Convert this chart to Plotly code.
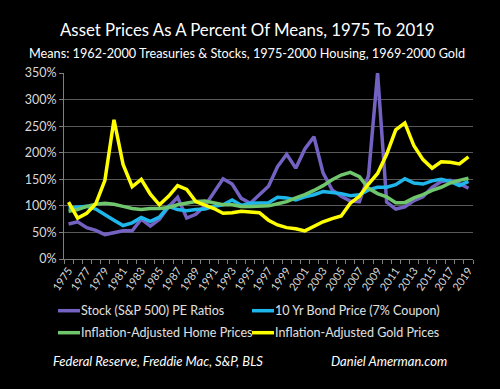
import plotly.graph_objects as go

years = list(range(1975, 2020))

stock_pe = [66, 70, 59, 54, 46, 49, 53, 53, 75, 62, 75, 98, 116, 77, 84,
            100, 125, 151, 141, 114, 105, 120, 137, 174, 197, 171, 207, 230, 162, 130,
            118, 109, 108, 157, 350, 107, 94, 98, 110, 117, 135, 146, 148, 142, 133]

bond_price = [96, 97, 99, 94, 83, 73, 63, 68, 78, 71, 79, 99, 93, 91, 93,
              94, 99, 102, 111, 101, 105, 106, 106, 116, 115, 111, 117, 121, 127, 125,
              123, 119, 121, 130, 135, 135, 140, 151, 143, 141, 147, 150, 146, 138, 146]

home_prices = [90, 93, 99, 103, 105, 103, 99, 95, 93, 95, 95, 97, 102, 105, 108,
               109, 105, 102, 102, 99, 99, 99, 100, 104, 108, 115, 121, 129, 138, 149,
               158, 163, 155, 133, 123, 117, 106, 106, 115, 121, 129, 135, 143, 148, 152]

gold_prices = [107, 77, 86, 104, 148, 262, 178, 136, 150, 122, 102, 118, 138, 131, 108,
               102, 95, 86, 87, 90, 88, 87, 73, 64, 59, 57, 53, 61, 70, 76,
               81, 105, 118, 141, 161, 197, 243, 256, 213, 187, 171, 183, 182, 179, 192]

series_names = ["Stock (S&P 500) PE Ratios", "10 Yr Bond Price (7% Coupon)",
                "Inflation-Adjusted Home Prices", "Inflation-Adjusted Gold Prices"]
series_values = [stock_pe, bond_price, home_prices, gold_prices]
series_colors = ["#7462C2", "#1FB6EC", "#70C66C", "#FFFF00"]

tick_years = years[::2]
y_ticks = [0, 50, 100, 150, 200, 250, 300, 350]

FONT = "Lato"

fig = go.Figure()
for name, vals, col in zip(series_names, series_values, series_colors):
    fig.add_trace(go.Scatter(x=years, y=vals, name=name, mode="lines",
                             line=dict(color=col, width=3.5), showlegend=False))

fig.update_layout(
    width=500, height=389,
    paper_bgcolor="#000000", plot_bgcolor="#000000",
    margin=dict(l=64, r=27, t=73, b=130),
    font=dict(family=FONT, color="#D9D9D9"),
    showlegend=False,
    xaxis=dict(range=[1974.5, 2019.5], tickmode="array", tickvals=tick_years,
               ticktext=[str(y) for y in tick_years], tickangle=-55,
               tickfont=dict(family=FONT, size=11, color="#D9D9D9"),
               showgrid=False, zeroline=False, showline=True, linecolor="#7F7F7F",
               linewidth=1, ticks="",
               minor=dict(tickmode="linear", tick0=1974.5, dtick=1, ticks="outside",
                          ticklen=4, tickcolor="#7F7F7F", showgrid=False)),
    yaxis=dict(range=[0, 350], tickmode="array", tickvals=y_ticks,
               ticktext=[f"{v}%" for v in y_ticks],
               tickfont=dict(family=FONT, size=12.5, color="#D9D9D9"),
               showgrid=True, gridcolor="#595959", gridwidth=1.3, zeroline=False,
               showline=True, linecolor="#7F7F7F", ticks="outside", ticklen=4,
               tickcolor="#7F7F7F"),
)

px0, pw = 64, 409
def px(x):
    return (x - px0) / pw
def py(y):
    return (259.3 - y) / 186.0

# Legend (two rows, two columns), drawn as line samples + text
legend_pos = [(58, 311), (252, 311), (58, 333), (252, 333)]
for (lx, ly), name, col in zip(legend_pos, series_names, series_colors):
    fig.add_shape(type="line", xref="paper", yref="paper",
                  x0=px(lx), x1=px(lx + 22), y0=py(ly), y1=py(ly),
                  line=dict(color=col, width=3.5))
    fig.add_annotation(text=name, xref="paper", yref="paper",
                       x=px(lx + 22), y=py(ly), xanchor="left", yanchor="middle",
                       showarrow=False, xshift=-1,
                       font=dict(family=FONT, size=12.5, color="#E0E0E0"))

fig.add_annotation(text="Asset Prices As A Percent Of Means, 1975 To 2019",
                   xref="paper", yref="paper", x=px(247.5), y=py(30),
                   xanchor="center", yanchor="middle", showarrow=False,
                   font=dict(family=FONT, size=16.8, color="#FFFFFF"))
fig.add_annotation(text="Means: 1962-2000 Treasuries & Stocks, 1975-2000 Housing, 1969-2000 Gold",
                   xref="paper", yref="paper", x=px(247), y=py(53),
                   xanchor="center", yanchor="middle", showarrow=False,
                   font=dict(family=FONT, size=12.7, color="#FFFFFF"))
fig.add_annotation(text="<i>Federal Reserve, Freddie Mac, S&P, BLS</i>",
                   xref="paper", yref="paper", x=px(51), y=py(361),
                   xanchor="left", yanchor="middle", showarrow=False,
                   font=dict(family=FONT, size=13, color="#FFFFFF"))
fig.add_annotation(text="<i>Daniel Amerman.com</i>",
                   xref="paper", yref="paper", x=px(329), y=py(361),
                   xanchor="left", yanchor="middle", showarrow=False,
                   font=dict(family=FONT, size=13, color="#FFFFFF"))

fig.write_html("out.html", config={"displayModeBar": False},
               post_script="document.body.style.margin='0';")
